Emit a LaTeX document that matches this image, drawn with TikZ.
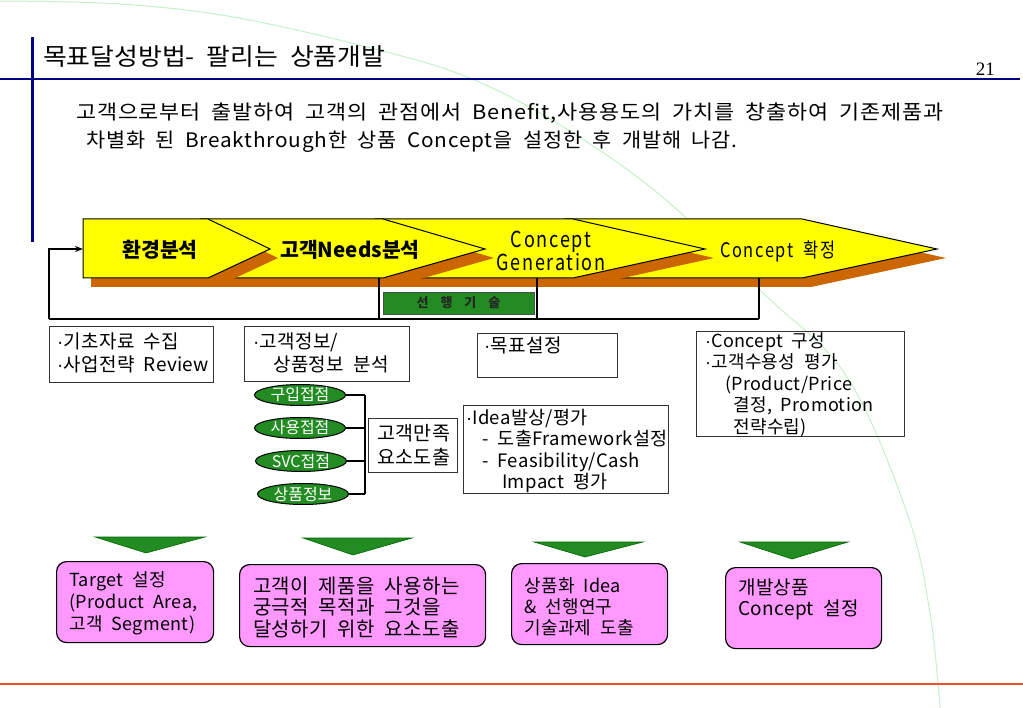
\documentclass[tikz,border=0pt]{standalone}
\usepackage{graphicx}
\usepackage{fontspec}
\setmainfont{Noto Sans CJK KR}
\newfontfamily\kr[WordSpace=2]{Noto Sans CJK KR}
\newfontfamily\krT{Noto Sans CJK KR}
\newfontfamily\krA[WordSpace=2,LetterSpace=2]{Noto Sans CJK KR}
\newfontfamily\krB[WordSpace=1.9,LetterSpace=4]{Noto Sans CJK KR}
\newfontfamily\krN[WordSpace=2,LetterSpace=8,FakeStretch=0.82]{Noto Sans CJK KR}
\newfontfamily\krW[WordSpace=4]{Noto Sans CJK KR}
\newfontfamily\numfont{Liberation Serif}
\newfontfamily\dotfont{Liberation Sans}
\usetikzlibrary{shapes.geometric,arrows.meta}
\newcommand\tstr[1]{\rule{0pt}{#1pt}}
\newcommand\bul{{\dotfont ·}}
\newcommand\titlefont{\krT\fontsize{24}{26}\selectfont\fontdimen2\font=11pt\fontdimen3\font=0pt\fontdimen4\font=0pt\relax}
\definecolor{navy}{RGB}{0,0,128}
\definecolor{ylw}{RGB}{255,255,0}
\definecolor{shd}{RGB}{204,102,0}
\definecolor{grn}{RGB}{34,139,34}
\definecolor{pnk}{RGB}{255,153,255}
\definecolor{redline}{RGB}{240,80,40}
\definecolor{arcg}{RGB}{200,240,200}
\tikzset{
  chevbody/.style={fill=ylw, draw=black, line width=1pt, line join=miter},
  chevshade/.style={fill=shd},
  chevlabel/.style={inner sep=0pt, font=\kr\bfseries\fontsize{20.5}{22}\selectfont},
  infobox/.style={draw=black!80, line width=0.9pt, inner sep=0pt, anchor=north west},
  boxtext/.style={inner sep=0pt, anchor=north west, align=left},
  oval/.style={ellipse, fill=grn, draw=black, line width=1pt, minimum width=91pt, minimum height=21pt, inner sep=0pt, text=white, font=\kr\fontsize{16}{17}\selectfont},
  pinkbox/.style={draw=black, line width=1.2pt, fill=pnk, rounded corners=10pt, anchor=north west, inner sep=0pt},
  downtri/.style={fill=grn, draw=black!60!green, line width=0.6pt},
  busline/.style={line width=2.6pt},
  drop/.style={line width=2pt},
  bracket/.style={line width=1.3pt}
}
\begin{document}
\begin{tikzpicture}[x=1pt,y=-1pt]
\useasboundingbox (0,0) rectangle (1023,708);
\fill[white] (0,0) rectangle (1023,708);
% faint background arc
\draw[arcg, line width=1pt] plot[smooth, tension=0.6] coordinates {(0,1) (120,4) (233,17) (367,47) (467,77) (560,125) (660,195) (763,293) (847,377) (907,513) (930,613) (940,708)};
% header
\draw[navy, line width=2.5pt] (0,79) -- (1020,79);
\draw[navy, line width=3pt] (32,37) -- (32,242);
\node[anchor=base west, inner sep=0pt, font=\titlefont] (title) at (43,65.5) {\resizebox{342pt}{\height}{목표달성방법- 팔리는 상품개발}};
\node[anchor=base east, inner sep=0pt, font=\numfont\fontsize{19}{20}\selectfont] (pnum) at (995,76) {21};
\node[anchor=base west, inner sep=0pt, font=\krB\fontsize{20}{22}\selectfont] (intro1) at (76,119.5) {\resizebox{867pt}{\height}{고객으로부터 출발하여 고객의 관점에서 Benefit,사용용도의 가치를 창출하여 기존제품과}};
\node[anchor=base west, inner sep=0pt, font=\krB\fontsize{20}{22}\selectfont] (intro2) at (86,147.5) {\resizebox{651pt}{\height}{차별화 된 Breakthrough한 상품 Concept을 설정한 후 개발해 나감.}};
% chevrons (right to left)
\fill[chevshade, shift={(9,9)}] (565,219) -- (802,219) -- (937,249) -- (802,278) -- (565,278) -- cycle;
\draw[chevbody] (565,219) -- (802,219) -- (937,249) -- (802,278) -- (565,278) -- cycle;
\fill[chevshade, shift={(9,9)}] (375,219) -- (573,219) -- (705,249) -- (573,278) -- (375,278) -- cycle;
\draw[chevbody] (375,219) -- (573,219) -- (705,249) -- (573,278) -- (375,278) -- cycle;
\fill[chevshade, shift={(9,9)}] (200,219) -- (383,219) -- (485,249) -- (383,278) -- (200,278) -- cycle;
\draw[chevbody] (200,219) -- (383,219) -- (485,249) -- (383,278) -- (200,278) -- cycle;
\fill[chevshade, shift={(8,9)}] (83,219) -- (208,219) -- (270,249) -- (208,278) -- (83,278) -- cycle;
\draw[chevbody] (83,219) -- (208,219) -- (270,249) -- (208,278) -- (83,278) -- cycle;
\node[chevlabel] (lab1) at (160,250) {환경분석};
\node[chevlabel] (lab2) at (350,250) {고객Needs분석};
\node[inner sep=0pt, align=center, font=\krN\fontsize{22}{23}\selectfont] (lab3) at (551,251) {Concept\\Generation};
\node[inner sep=0pt, font=\krN\fontsize{20}{22}\selectfont] (lab4) at (778,251) {Concept 확정};
% connectors
\coordinate (a1w) at (83,249);
\coordinate (fbup) at (49,249);
\coordinate (busL) at (49,319);
\coordinate (busR) at (759,319);
\coordinate (d1) at (379,278);
\coordinate (d2) at (537,278);
\coordinate (d3) at (759,278);
\draw[busline] (busL) -- (busR);
\draw[drop] (d1) -- (d1 |- busL);
\draw[drop] (d2) -- (d2 |- busL);
\draw[drop] (d3) -- (busR);
\draw[drop, -{Stealth[length=8pt,width=6pt]}] (busL) -- (fbup) -- (a1w);
% green box
\node[draw=black!70, line width=0.8pt, fill=grn, minimum width=151pt, minimum height=22pt, inner sep=0pt, font=\krW\bfseries\fontsize{13}{14}\selectfont, text=black!85] (tech) at (458.5,303) {선 행 기 술};
% info boxes
\node[infobox, minimum width=164pt, minimum height=56pt] (boxA) at (49,326) {};
\node[boxtext, font=\krA\fontsize{19}{23}\selectfont] (txtA) at (57,331) {\tstr{17}\bul 기초자료 수집\\\bul 사업전략 Review};
\node[infobox, minimum width=165pt, minimum height=55pt] (boxB) at (244,326) {};
\node[boxtext, font=\krA\fontsize{19}{23}\selectfont] (txtB) at (253,331) {\tstr{17}\bul 고객정보/\\\hspace*{20pt}상품정보 분석};
\node[infobox, minimum width=140pt, minimum height=44pt] (boxC) at (477,333) {};
\node[boxtext, font=\krA\fontsize{19}{23}\selectfont] (txtC) at (484,335) {\tstr{17}\bul 목표설정};
\node[infobox, minimum width=208pt, minimum height=105pt] (boxD) at (696,331) {};
\node[boxtext, font=\krA\fontsize{18}{21.5}\selectfont] (txtD) at (705,331) {\tstr{16}\bul Concept 구성\\\bul 고객수용성 평가\\\hspace*{20pt}(Product/Price\\\hspace*{28pt}결정, Promotion\\\hspace*{28pt}전략수립)};
\node[infobox, minimum width=89pt, minimum height=54pt] (boxE) at (368,418) {};
\node[boxtext, font=\krA\fontsize{19.5}{24}\selectfont] (txtE) at (377,423) {\tstr{17}고객만족\\요소도출};
\node[infobox, minimum width=205pt, minimum height=88pt] (boxF) at (463,405) {};
\node[boxtext, font=\krA\fontsize{18.5}{21.5}\selectfont] (txtF) at (466,407) {\tstr{17}\bul Idea발상/평가\\\hspace*{16pt}- 도출Framework설정\\\hspace*{16pt}- Feasibility/Cash\\\hspace*{36pt}Impact 평가};
% ovals and bracket
\node[oval] (o1) at (300,395) {구입접점};
\node[oval] (o2) at (300,428) {사용접점};
\node[oval] (o3) at (301,461) {SVC접점};
\node[oval] (o4) at (303,494) {상품정보};
\coordinate (brT) at (365,395);
\coordinate (brB) at (365,494);
\draw[bracket] (o1.east) -- (o1.east -| brT);
\draw[bracket] (o2.east) -- (o2.east -| brT);
\draw[bracket] (o3.east) -- (o3.east -| brT);
\draw[bracket] (o4.east) -- (o4.east -| brT);
\draw[bracket] (brT) -- (brB);
% down triangles
\draw[downtri] (95,537) -- (205,537) -- (146,553) -- cycle;
\draw[downtri] (303,538) -- (412,538) -- (353,555) -- cycle;
\draw[downtri] (534,542) -- (643,542) -- (585,557) -- cycle;
\draw[downtri] (740,542) -- (848,542) -- (792,559) -- cycle;
% pink result boxes
\node[pinkbox, minimum width=157pt, minimum height=81pt] (pk1) at (56,561) {};
\node[boxtext, font=\krA\fontsize{18}{22}\selectfont] (pt1) at (69,570) {\tstr{16}Target 설정\\(Product Area,\\고객 Segment)};
\node[pinkbox, minimum width=246pt, minimum height=82pt] (pk2) at (239,564) {};
\node[boxtext, font=\krA\fontsize{20}{21.5}\selectfont] (pt2) at (253,575) {\tstr{18}고객이 제품을 사용하는\\궁극적 목적과 그것을\\달성하기 위한 요소도출};
\node[pinkbox, minimum width=156pt, minimum height=81pt] (pk3) at (511,563) {};
\node[boxtext, font=\krA\fontsize{18}{21}\selectfont] (pt3) at (524,576) {\tstr{16}상품화 Idea\\\& 선행연구\\기술과제 도출};
\node[pinkbox, minimum width=156pt, minimum height=81pt] (pk4) at (725,567) {};
\node[boxtext, font=\krA\fontsize{19}{21.5}\selectfont] (pt4) at (738,577) {\tstr{17}개발상품\\Concept 설정};
% bottom line
\draw[redline, line width=2pt] (0,684) -- (1023,684);
\end{tikzpicture}
\end{document}
